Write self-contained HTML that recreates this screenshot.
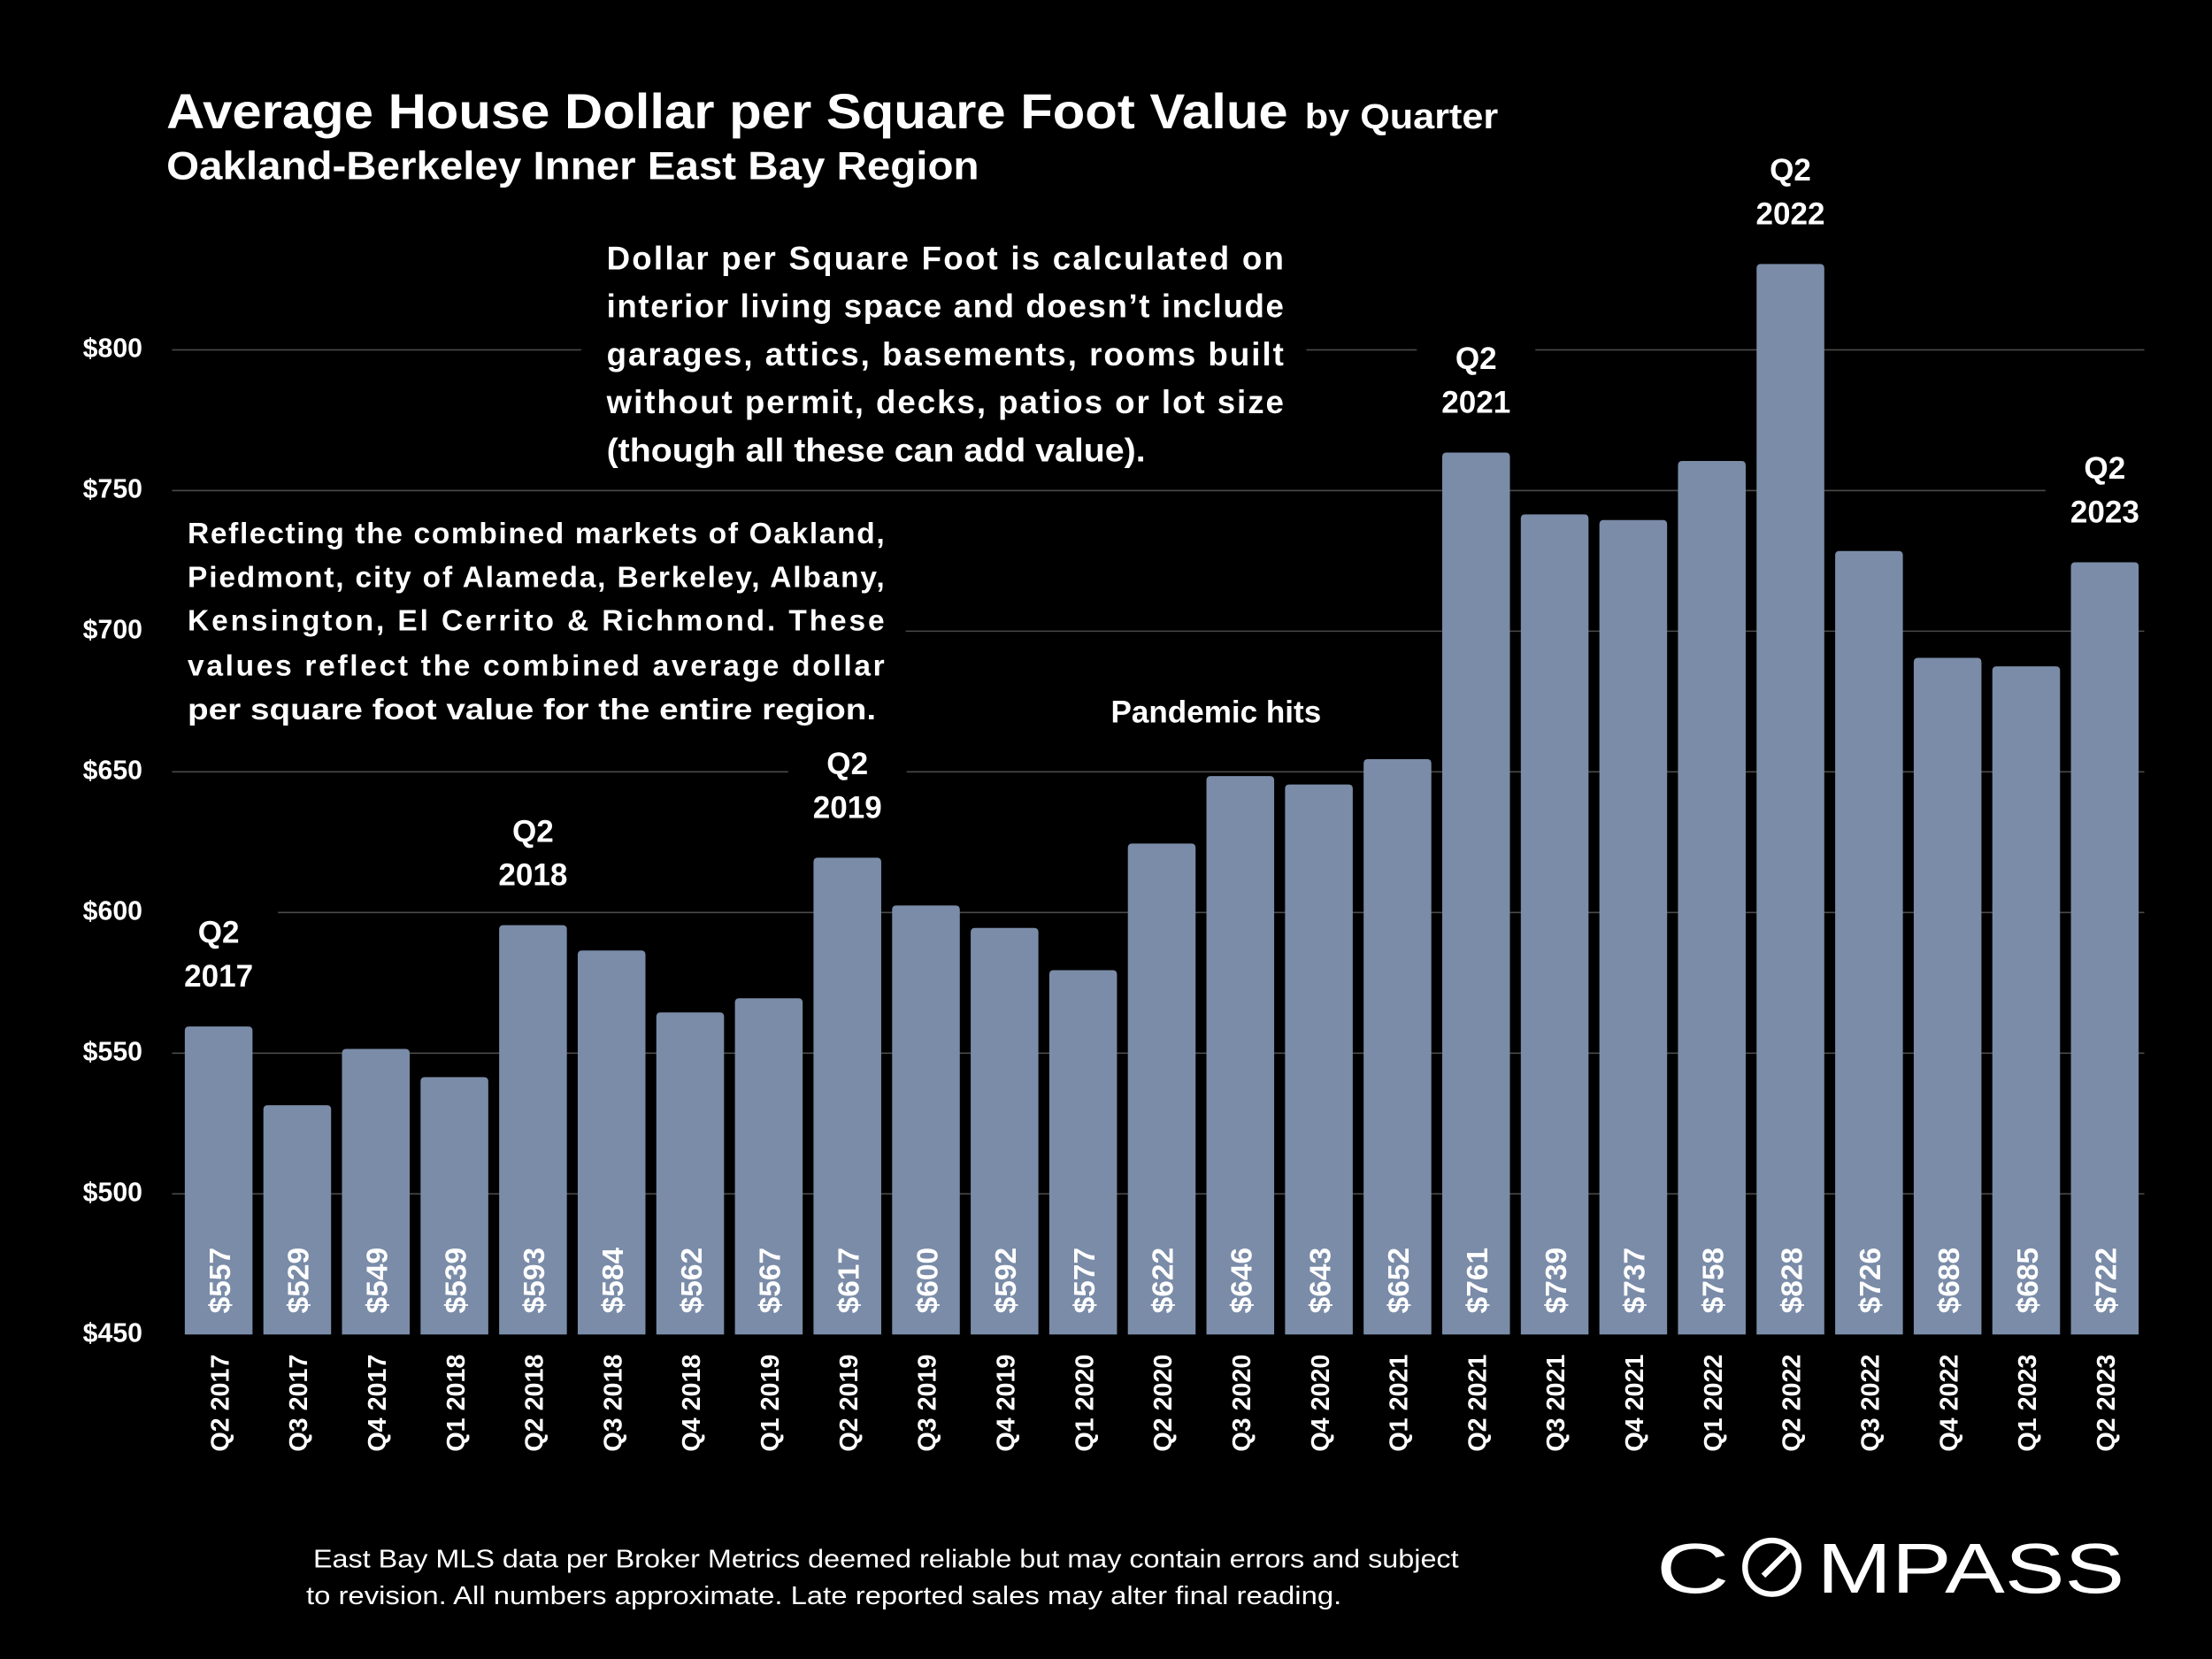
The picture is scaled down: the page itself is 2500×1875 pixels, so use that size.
<!DOCTYPE html>
<html><head><meta charset="utf-8"><style>
html,body{margin:0;padding:0;background:#000;}
svg{display:block;}
text{font-family:"Liberation Sans",sans-serif;fill:#fff;}
</style></head><body>
<svg id="chart" width="2500" height="1875" viewBox="0 0 1568 1176" xmlns="http://www.w3.org/2000/svg">
<rect width="1568" height="1176" fill="#000"/>
<g id="grid"></g>
<g id="bars"></g>
<g id="masks">
  <rect x="412" y="160" width="514" height="178" fill="#000"/>
  <rect x="120" y="358" width="522" height="166" fill="#000"/>
</g>
<g id="yaxis"></g>
<g id="xaxis"></g>
<g id="anno"></g>
<text x="118" y="91" font-size="35" font-weight="bold" textLength="795" lengthAdjust="spacingAndGlyphs">Average House Dollar per Square Foot Value</text>
<text x="925" y="91" font-size="25" font-weight="bold" textLength="137" lengthAdjust="spacingAndGlyphs">by Quarter</text>
<text x="118" y="127" font-size="28" font-weight="bold" textLength="576" lengthAdjust="spacingAndGlyphs">Oakland-Berkeley Inner East Bay Region</text>
<g font-size="23" font-weight="bold">
  <text x="430" y="191" textLength="480" lengthAdjust="spacing">Dollar per Square Foot is calculated on</text>
  <text x="430" y="225" textLength="480" lengthAdjust="spacing">interior living space and doesn’t include</text>
  <text x="430" y="259" textLength="480" lengthAdjust="spacing">garages, attics, basements, rooms built</text>
  <text x="430" y="293" textLength="480" lengthAdjust="spacing">without permit, decks, patios or lot size</text>
  <text x="430" y="327" textLength="382" lengthAdjust="spacingAndGlyphs">(though all these can add value).</text>
</g>
<g font-size="21" font-weight="bold">
  <text x="133" y="385" textLength="494" lengthAdjust="spacing">Reflecting the combined markets of Oakland,</text>
  <text x="133" y="416" textLength="494" lengthAdjust="spacing">Piedmont, city of Alameda, Berkeley, Albany,</text>
  <text x="133" y="447" textLength="494" lengthAdjust="spacing">Kensington, El Cerrito &amp; Richmond. These</text>
  <text x="133" y="479" textLength="494" lengthAdjust="spacing">values reflect the combined average dollar</text>
  <text x="133" y="510" textLength="488" lengthAdjust="spacingAndGlyphs">per square foot value for the entire region.</text>
</g>
<text x="862" y="512" font-size="22" font-weight="bold" text-anchor="middle">Pandemic hits</text>
<g font-size="18">
  <text x="222" y="1111" textLength="812" lengthAdjust="spacingAndGlyphs">East Bay MLS data per Broker Metrics deemed reliable but may contain errors and subject</text>
  <text x="217" y="1137" textLength="734" lengthAdjust="spacingAndGlyphs">to revision. All numbers approximate. Late reported sales may alter final reading.</text>
</g>
<g>
  <text x="1174" y="1129" font-size="50" textLength="52" lengthAdjust="spacingAndGlyphs">C</text>
  <circle cx="1256" cy="1111" r="19" fill="none" stroke="#fff" stroke-width="4"/>
  <line x1="1250" y1="1117" x2="1268" y2="1099" stroke="#fff" stroke-width="4"/>
  <text x="1288" y="1129" font-size="50" textLength="218" lengthAdjust="spacingAndGlyphs">MPASS</text>
</g>
</svg>
<script>
const categories = ["Q2 2017","Q3 2017","Q4 2017","Q1 2018","Q2 2018","Q3 2018","Q4 2018","Q1 2019","Q2 2019","Q3 2019","Q4 2019","Q1 2020","Q2 2020","Q3 2020","Q4 2020","Q1 2021","Q2 2021","Q3 2021","Q4 2021","Q1 2022","Q2 2022","Q3 2022","Q4 2022","Q1 2023","Q2 2023"];
const values = [557,529,549,539,593,584,562,567,617,600,592,577,622,646,643,652,761,739,737,758,828,726,688,685,722];
const yTicks = [450,500,550,600,650,700,750,800];
const highlighted = ["Q2 2017","Q2 2018","Q2 2019","Q2 2021","Q2 2022","Q2 2023"];

const NS = "http://www.w3.org/2000/svg";
const Y0 = 946, Y800 = 248, VMIN = 450, VMAX = 800;
const BAR_OFFSET = 5;
function yScale(v){ return Y0 - (v - VMIN) * (Y0 - Y800) / (VMAX - VMIN); }
const X0 = 131, PITCH = (1468 - 131) / 24, BW = 48;
function xScale(i){ return X0 + i * PITCH; }
function mk(tag, attrs, parent){ const e = document.createElementNS(NS, tag); for (const k in attrs) e.setAttribute(k, attrs[k]); parent.appendChild(e); return e; }

const grid = document.getElementById('grid');
const yaxis = document.getElementById('yaxis');
const masks = document.getElementById('masks');
yTicks.forEach(t => {
  const y = yScale(t);
  if (t > VMIN) {
    const l = mk('line', {x1:122, x2:1520, y1:y, y2:y, stroke:'#4a4a4a', 'stroke-width':1}, grid);
    
    
  }
  const tx = mk('text', {x:101, y:y, 'font-size':19, 'font-weight':'bold', 'text-anchor':'end', 'dominant-baseline':'middle'}, yaxis);
  tx.textContent = '$' + t;
  
  
});

const bars = document.getElementById('bars');
const xaxis = document.getElementById('xaxis');
const anno = document.getElementById('anno');
values.forEach((v, i) => {
  const x = xScale(i), top = yScale(v) - BAR_OFFSET, r = 3;
  const p = mk('path', {d:`M${x},${Y0} V${top+r} Q${x},${top} ${x+r},${top} H${x+BW-r} Q${x+BW},${top} ${x+BW},${top+r} V${Y0} Z`, fill:'#7a8ca8'}, bars);
  
  
  const cx = x + BW / 2;
  const vl = mk('text', {x:0, y:0, 'font-size':21, 'font-weight':'bold', transform:`translate(${cx+8},931) rotate(-90)`}, bars);
  vl.textContent = '$' + v;
  
  
  const xl = mk('text', {x:0, y:0, 'font-size':18, 'font-weight':'bold', 'text-anchor':'end', transform:`translate(${cx+7},960) rotate(-90)`}, xaxis);
  xl.textContent = categories[i];
  
  
  if (highlighted.includes(categories[i])) {
    const parts = categories[i].split(' ');
    const bg = mk('rect', {x:cx-42, y:top-88, width:84, height:78, fill:'#000'}, masks);
    
    
    const a1 = mk('text', {x:cx, y:top-65, 'font-size':22, 'font-weight':'bold', 'text-anchor':'middle', 'dominant-baseline':'middle'}, anno);
    a1.textContent = parts[0];
    
    
    const a2 = mk('text', {x:cx, y:top-34, 'font-size':22, 'font-weight':'bold', 'text-anchor':'middle', 'dominant-baseline':'middle'}, anno);
    a2.textContent = parts[1];
    
    
  }
});
</script>
</body></html>
